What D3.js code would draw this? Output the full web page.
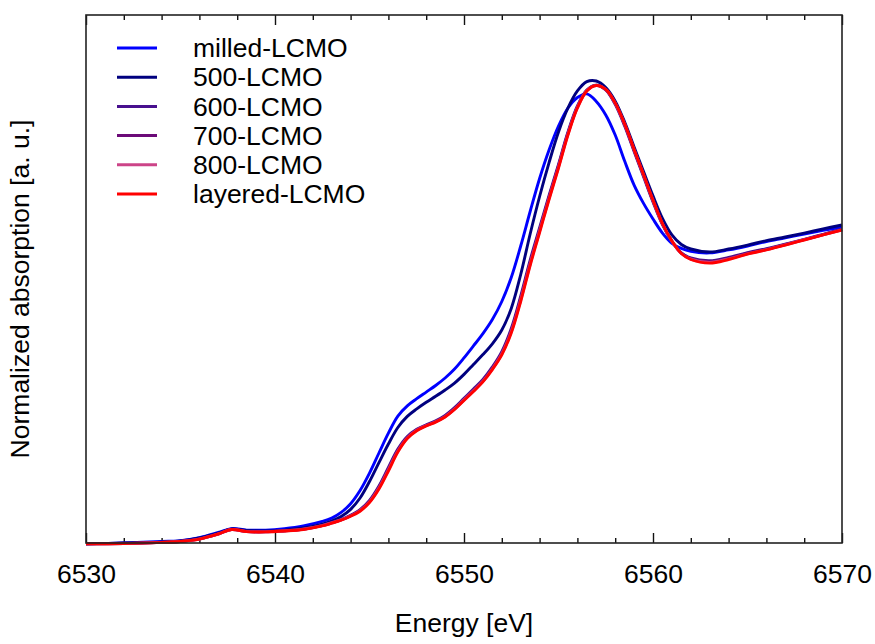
<!DOCTYPE html>
<html>
<head>
<meta charset="utf-8">
<script src="https://cdn.jsdelivr.net/npm/d3@7"></script>
<style>
  html, body { margin: 0; padding: 0; background: #fff; }
  svg { display: block; }
  text { font-family: "Liberation Sans", Arial, Helvetica, sans-serif; fill: #000; }
</style>
</head>
<body>
<svg id="chart" width="875" height="644"></svg>
<script>
// Photon energy grid (eV), Mn K-edge XANES
const energy = [6530, 6532, 6534, 6535, 6536, 6537, 6537.7, 6538.5, 6539.5, 6540.5, 6541.5, 6542.5,
  6543, 6543.5, 6544, 6544.5, 6545, 6545.5, 6546, 6546.5, 6547, 6547.5, 6548, 6548.5, 6549, 6549.5,
  6550, 6550.5, 6551, 6551.5, 6552, 6552.5, 6553, 6553.5, 6554, 6554.5, 6555, 6555.5, 6556, 6556.5,
  6557, 6557.5, 6558, 6558.5, 6559, 6559.5, 6560, 6560.5, 6561, 6561.5, 6562,
  6563, 6564, 6565, 6566, 6567, 6568, 6569, 6570];

// Normalized absorption for each sample
const milledLCMO = [-0.003, 0.000, 0.005, 0.008, 0.018, 0.035, 0.048, 0.043, 0.043, 0.048, 0.057, 0.072,
  0.083, 0.102, 0.131, 0.175, 0.233, 0.300, 0.366, 0.423, 0.457, 0.481, 0.503, 0.525, 0.550, 0.580,
  0.617, 0.657, 0.698, 0.745, 0.805, 0.885, 0.990, 1.105, 1.215, 1.310, 1.390, 1.450, 1.485, 1.497,
  1.472, 1.427, 1.360, 1.273, 1.193, 1.132, 1.080, 1.033, 0.999, 0.982, 0.972,
  0.967, 0.977, 0.990, 1.005, 1.017, 1.030, 1.042, 1.053];

const lcmo500 = [-0.003, 0.000, 0.003, 0.007, 0.017, 0.033, 0.047, 0.042, 0.040, 0.043, 0.050, 0.063,
  0.073, 0.088, 0.112, 0.150, 0.205, 0.268, 0.330, 0.385, 0.422, 0.447, 0.469, 0.489, 0.510, 0.533,
  0.562, 0.595, 0.628, 0.664, 0.710, 0.782, 0.895, 1.030, 1.155, 1.268, 1.370, 1.450, 1.507, 1.538,
  1.540, 1.518, 1.473, 1.403, 1.320, 1.238, 1.157, 1.082, 1.027, 0.995, 0.980,
  0.970, 0.980, 0.993, 1.008, 1.020, 1.033, 1.047, 1.060];

const lcmo600 = [-0.003, -0.001, 0.003, 0.006, 0.014, 0.031, 0.046, 0.039, 0.038, 0.041, 0.047, 0.059,
  0.068, 0.078, 0.092, 0.111, 0.142, 0.190, 0.252, 0.313, 0.355, 0.379, 0.394, 0.407, 0.425, 0.451,
  0.482, 0.513, 0.545, 0.587, 0.638, 0.715, 0.823, 0.943, 1.051, 1.159, 1.262, 1.370, 1.457, 1.510,
  1.526, 1.510, 1.462, 1.390, 1.305, 1.221, 1.137, 1.061, 1.006, 0.967, 0.950,
  0.941, 0.952, 0.968, 0.981, 0.996, 1.012, 1.029, 1.046];

const lcmo700 = [-0.003, -0.002, 0.002, 0.005, 0.014, 0.030, 0.045, 0.038, 0.037, 0.041, 0.046, 0.058,
  0.067, 0.077, 0.091, 0.109, 0.139, 0.186, 0.247, 0.309, 0.352, 0.377, 0.392, 0.405, 0.423, 0.448,
  0.479, 0.509, 0.541, 0.583, 0.633, 0.708, 0.815, 0.935, 1.044, 1.153, 1.257, 1.366, 1.454, 1.509,
  1.526, 1.511, 1.465, 1.394, 1.309, 1.225, 1.140, 1.063, 1.006, 0.966, 0.948,
  0.938, 0.949, 0.966, 0.979, 0.995, 1.011, 1.028, 1.045];

const lcmo800 = [-0.003, -0.002, 0.002, 0.005, 0.013, 0.030, 0.045, 0.038, 0.037, 0.040, 0.046, 0.058,
  0.067, 0.077, 0.090, 0.108, 0.137, 0.183, 0.244, 0.306, 0.350, 0.376, 0.391, 0.404, 0.421, 0.446,
  0.477, 0.507, 0.539, 0.580, 0.630, 0.704, 0.810, 0.930, 1.040, 1.149, 1.253, 1.363, 1.452, 1.508,
  1.525, 1.512, 1.466, 1.396, 1.311, 1.227, 1.142, 1.064, 1.006, 0.965, 0.946,
  0.935, 0.947, 0.964, 0.978, 0.994, 1.011, 1.027, 1.044];

const layeredLCMO = [-0.003, -0.002, 0.002, 0.005, 0.013, 0.030, 0.045, 0.038, 0.037, 0.040, 0.045, 0.057,
  0.066, 0.076, 0.089, 0.106, 0.135, 0.180, 0.240, 0.303, 0.348, 0.374, 0.390, 0.403, 0.420, 0.445,
  0.475, 0.505, 0.537, 0.578, 0.627, 0.700, 0.805, 0.925, 1.035, 1.145, 1.250, 1.360, 1.450, 1.507,
  1.525, 1.512, 1.467, 1.397, 1.312, 1.228, 1.143, 1.065, 1.007, 0.965, 0.945,
  0.933, 0.945, 0.963, 0.977, 0.993, 1.010, 1.027, 1.043];

const seriesNames = ["milled-LCMO", "500-LCMO", "600-LCMO", "700-LCMO", "800-LCMO", "layered-LCMO"];
const seriesValues = [milledLCMO, lcmo500, lcmo600, lcmo700, lcmo800, layeredLCMO];
const seriesColors = ["#0000ff", "#00007f", "#48108e", "#6c0a78", "#cc4488", "#ff0000"];

const xMajorTicks = [6530, 6540, 6550, 6560, 6570];
const xMinorTicks = [6532, 6534, 6536, 6538, 6542, 6544, 6546, 6548, 6552, 6554, 6556, 6558,
  6562, 6564, 6566, 6568];

// Plot frame
const frameLeft = 86, frameRight = 842, frameTop = 15, frameBottom = 543;

const svg = d3.select("#chart");

const x = d3.scaleLinear().domain([6530, 6570]).range([frameLeft, frameRight]);
const y = d3.scaleLinear().domain([0, 1.76]).range([frameBottom, frameTop]);

// Bottom axis: inward major ticks with labels, inward minor ticks
const bottomMajor = d3.axisBottom(x).tickValues(xMajorTicks).tickFormat(d3.format("d"))
  .tickSizeInner(-10).tickSizeOuter(0).tickPadding(21);
const bottomMinor = d3.axisBottom(x).tickValues(xMinorTicks).tickFormat("")
  .tickSizeInner(-5).tickSizeOuter(0);
const gB = svg.append("g").attr("transform", `translate(0,${frameBottom})`).call(bottomMajor);
svg.append("g").attr("transform", `translate(0,${frameBottom})`).call(bottomMinor);

// Top axis: mirrored ticks, no labels
const topMajor = d3.axisTop(x).tickValues(xMajorTicks).tickFormat("")
  .tickSizeInner(-10).tickSizeOuter(0);
const topMinor = d3.axisTop(x).tickValues(xMinorTicks).tickFormat("")
  .tickSizeInner(-5).tickSizeOuter(0);
svg.append("g").attr("transform", `translate(0,${frameTop})`).call(topMajor);
svg.append("g").attr("transform", `translate(0,${frameTop})`).call(topMinor);

svg.selectAll(".domain").remove();
svg.selectAll(".tick line").attr("stroke", "#111").attr("stroke-width", 1.4);
gB.selectAll(".tick text")
  .attr("font-size", 26.5)
  .attr("font-family", "'Liberation Sans', Arial, sans-serif")
  .attr("fill", "#000");

// Curves
const line = d3.line()
  .x((d, i) => x(energy[i]))
  .y(d => y(d))
  .curve(d3.curveCatmullRom.alpha(0.5));

svg.append("g").selectAll("path")
  .data(seriesValues)
  .join("path")
  .attr("d", d => line(d))
  .attr("fill", "none")
  .attr("stroke", (d, i) => seriesColors[i])
  .attr("stroke-width", 2.9)
  .attr("stroke-linejoin", "round");

// Frame
svg.append("rect")
  .attr("x", frameLeft).attr("y", frameTop)
  .attr("width", frameRight - frameLeft).attr("height", frameBottom - frameTop)
  .attr("fill", "none").attr("stroke", "#222").attr("stroke-width", 1.6);

// Legend
const legend = svg.append("g");
const rowY = d3.scaleLinear().domain([0, 5]).range([48, 194]);
seriesNames.forEach((name, i) => {
  legend.append("line")
    .attr("x1", 117).attr("x2", 157)
    .attr("y1", rowY(i)).attr("y2", rowY(i))
    .attr("stroke", seriesColors[i]).attr("stroke-width", 3);
  legend.append("text")
    .attr("x", 193).attr("y", rowY(i))
    .attr("dy", "0.35em")
    .attr("font-size", 26.5)
    .text(name);
});

// Axis titles
svg.append("text")
  .attr("x", (frameLeft + frameRight) / 2).attr("y", 632)
  .attr("text-anchor", "middle")
  .attr("font-size", 26.5)
  .text("Energy [eV]");

svg.append("text")
  .attr("transform", `translate(29,${(118 + 460) / 2}) rotate(-90)`)
  .attr("text-anchor", "middle")
  .attr("font-size", 26.5)
  .text("Normalized absorption [a. u.]");
</script>
</body>
</html>
